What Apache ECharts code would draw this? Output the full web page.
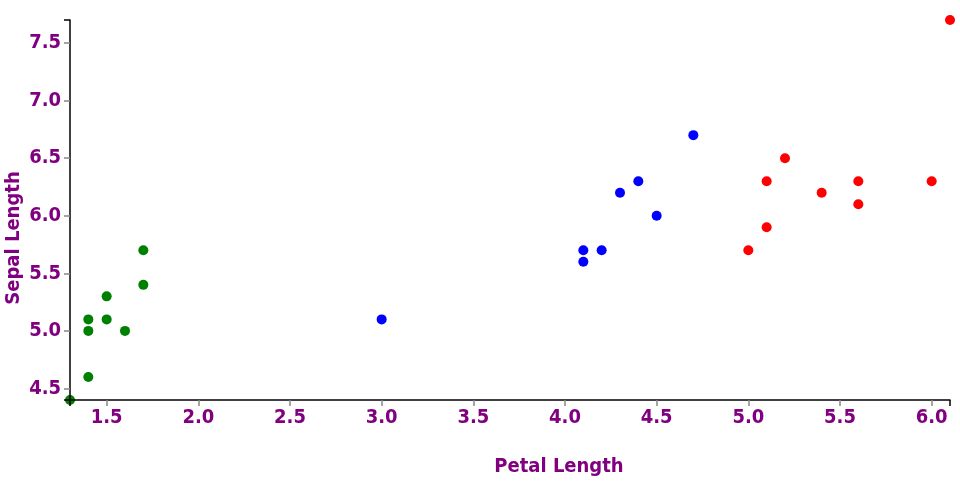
<!DOCTYPE html>
<html>
<head>
<meta charset="utf-8">
<script src="https://cdn.jsdelivr.net/npm/echarts@6/dist/echarts.min.js"></script>
<style>html,body{margin:0;padding:0;background:#fff}#chart{width:960px;height:500px}</style>
</head>
<body>
<div id="chart"></div>
<script>
const setosa = [[1.3,4.4],[1.4,4.6],[1.4,5.0],[1.4,5.1],[1.5,5.1],[1.5,5.3],[1.6,5.0],[1.7,5.4],[1.7,5.7]];
const versicolor = [[3.0,5.1],[4.1,5.6],[4.1,5.7],[4.2,5.7],[4.3,6.2],[4.4,6.3],[4.5,6.0],[4.7,6.7]];
const virginica = [[5.0,5.7],[5.1,5.9],[5.1,6.3],[5.2,6.5],[5.4,6.2],[5.6,6.3],[5.6,6.1],[6.0,6.3],[6.1,7.7]];
const xTicks = [1.5,2.0,2.5,3.0,3.5,4.0,4.5,5.0,5.5,6.0];
const yTicks = [4.5,5.0,5.5,6.0,6.5,7.0,7.5];
const xDomain = [1.3, 6.1];
const yDomain = [4.4, 7.7];
const xTitle = 'Petal Length';
const yTitle = 'Sepal Length';

const FONT = '"Liberation Sans Narrow", "DejaVu Sans Condensed", sans-serif';
const PURPLE = '#800080';
const chart = echarts.init(document.getElementById('chart'), null, {renderer: 'canvas'});

function mainAxis(domain, ticks, margin) {
  return {
    type: 'value', min: domain[0], max: domain[1], z: 5,
    splitLine: {show: false},
    axisLine: {show: true, onZero: false, lineStyle: {color: '#000', width: 1.5}},
    axisTick: {show: true, length: 6, customValues: ticks, lineStyle: {color: '#888', width: 1.5}},
    axisLabel: {show: true, customValues: ticks, margin: margin,
      formatter: v => v.toFixed(1),
      color: PURPLE, fontFamily: FONT, fontWeight: 'bold', fontSize: 20}
  };
}
function endAxis(domain, pos) {
  return {
    type: 'value', min: domain[0], max: domain[1], position: pos, z: 6,
    splitLine: {show: false},
    axisLine: {show: false, onZero: false},
    axisTick: {show: true, length: 6, customValues: domain, lineStyle: {color: '#000', width: 1.5}},
    axisLabel: {show: false}
  };
}

chart.setOption({
  animation: false,
  grid: {left: 70, right: 10, top: 20, bottom: 100, containLabel: false},
  xAxis: [mainAxis(xDomain, xTicks, 8), endAxis(xDomain, 'bottom')],
  yAxis: [mainAxis(yDomain, yTicks, 9), endAxis(yDomain, 'left')],
  graphic: [
    {type: 'text', x: 559, y: 467, style: {text: xTitle, fill: PURPLE, font: 'bold 20px ' + FONT, textAlign: 'center', textVerticalAlign: 'middle'}},
    {type: 'text', x: 14, y: 238, rotation: Math.PI / 2, style: {text: yTitle, fill: PURPLE, font: 'bold 20px ' + FONT, textAlign: 'center', textVerticalAlign: 'middle'}}
  ],
  series: [
    {type: 'scatter', data: setosa, symbolSize: 10, itemStyle: {color: '#008000', opacity: 1}, z: 2},
    {type: 'scatter', data: versicolor, symbolSize: 10, itemStyle: {color: '#0000ff', opacity: 1}, z: 2},
    {type: 'scatter', data: virginica, symbolSize: 10, itemStyle: {color: '#ff0000', opacity: 1}, z: 2}
  ]
});
</script>
</body>
</html>
